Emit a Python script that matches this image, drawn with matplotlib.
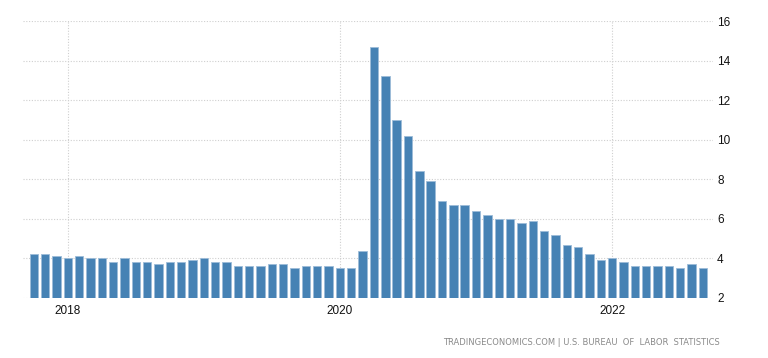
import matplotlib.pyplot as plt
import numpy as np

# monthly unemployment rate, Oct 2017 .. Sep 2022
months = ['2017-10', '2017-11', '2017-12',
          '2018-01', '2018-02', '2018-03', '2018-04', '2018-05', '2018-06',
          '2018-07', '2018-08', '2018-09', '2018-10', '2018-11', '2018-12',
          '2019-01', '2019-02', '2019-03', '2019-04', '2019-05', '2019-06',
          '2019-07', '2019-08', '2019-09', '2019-10', '2019-11', '2019-12',
          '2020-01', '2020-02', '2020-03', '2020-04', '2020-05', '2020-06',
          '2020-07', '2020-08', '2020-09', '2020-10', '2020-11', '2020-12',
          '2021-01', '2021-02', '2021-03', '2021-04', '2021-05', '2021-06',
          '2021-07', '2021-08', '2021-09', '2021-10', '2021-11', '2021-12',
          '2022-01', '2022-02', '2022-03', '2022-04', '2022-05', '2022-06',
          '2022-07', '2022-08', '2022-09']
rate = [4.2, 4.2, 4.1,
        4.0, 4.1, 4.0, 4.0, 3.8, 4.0, 3.8, 3.8, 3.7, 3.8, 3.8, 3.9,
        4.0, 3.8, 3.8, 3.6, 3.6, 3.6, 3.7, 3.7, 3.5, 3.6, 3.6, 3.6,
        3.5, 3.5, 4.4, 14.7, 13.2, 11.0, 10.2, 8.4, 7.9, 6.9, 6.7, 6.7,
        6.4, 6.2, 6.0, 6.0, 5.8, 5.9, 5.4, 5.2, 4.7, 4.6, 4.2, 3.9,
        4.0, 3.8, 3.6, 3.6, 3.6, 3.6, 3.5, 3.7, 3.5]
year_ticks = ['2018', '2020', '2022']
y_ticks = [2, 4, 6, 8, 10, 12, 14, 16]

x = np.arange(len(months))
base = 2
heights = [r - base for r in rate]

fig = plt.figure(figsize=(7.68, 3.58), dpi=100)
ax = fig.add_axes([0.030, 0.1676, 0.8984, 0.7737])

ax.bar(x, heights, bottom=base, width=0.74, color='#4682b4',
       edgecolor='#9dbcd8', linewidth=0.6, zorder=3)

ax.set_xlim(-0.95, 59.9)
ax.set_ylim(2, 16)

xt = [months.index(y + '-01') for y in year_ticks]
ax.set_xticks(xt)
ax.set_xticklabels(year_ticks, fontsize=8.5, family='Liberation Sans', color='#111111')
ax.set_yticks(y_ticks)
ax.set_yticklabels([str(v) for v in y_ticks], fontsize=8.5, family='Liberation Sans', color='#111111')
ax.yaxis.tick_right()
ax.tick_params(axis='both', length=0)
ax.tick_params(axis='y', pad=3)
ax.tick_params(axis='x', pad=5)

ax.grid(True, color='#cfcfcf', linestyle=(0, (1, 1.5)), linewidth=0.8, zorder=0)
for s in ax.spines.values():
    s.set_visible(False)

fig.text(0.9375, 0.043, 'TRADINGECONOMICS.COM | U.S. BUREAU  OF  LABOR  STATISTICS',
         ha='right', va='center', fontsize=6.0, color='#8a8a8a', family='DejaVu Sans')

fig.savefig('out.png', dpi=100)
